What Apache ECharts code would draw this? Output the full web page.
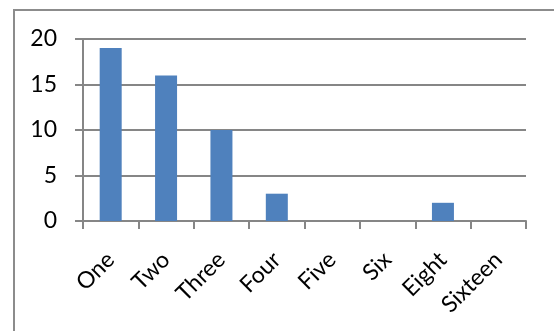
<!DOCTYPE html>
<html>
<head>
<meta charset="utf-8">
<script src="https://cdn.jsdelivr.net/npm/echarts@6/dist/echarts.min.js"></script>
<style>
  html, body { margin: 0; padding: 0; background: #fff; }
  #chart { width: 554px; height: 331px; }
</style>
</head>
<body>
<div id="chart"></div>
<script>
const categories = ['One', 'Two', 'Three', 'Four', 'Five', 'Six', 'Eight', 'Sixteen'];
const values = [19, 16, 10, 3, 0, 0, 2, 0];
const yTicks = [0, 5, 10, 15, 20];

const chart = echarts.init(document.getElementById('chart'), null, { renderer: 'canvas' });
const axisColor = '#868686';
const font = 'Lato, "Open Sans", sans-serif';

chart.setOption({
  animation: false,
  backgroundColor: '#ffffff',
  graphic: [{
    type: 'rect',
    shape: { x: 14, y: 10, width: 800, height: 600 },
    style: { fill: 'none', stroke: '#8c8c8c', lineWidth: 2 },
    silent: true
  }],
  grid: { left: 83, top: 39, right: 28, bottom: 110, containLabel: false },
  xAxis: {
    type: 'category',
    data: categories,
    boundaryGap: true,
    axisLine: { lineStyle: { color: axisColor, width: 2 } },
    axisTick: { show: true, length: 8, alignWithLabel: false, lineStyle: { color: axisColor, width: 2 } },
    axisLabel: { rotate: 45, interval: 0, margin: 35, color: '#000', fontFamily: font, fontSize: 23 }
  },
  yAxis: {
    type: 'value',
    min: yTicks[0],
    max: yTicks[yTicks.length - 1],
    interval: yTicks[1] - yTicks[0],
    axisLine: { show: true, lineStyle: { color: axisColor, width: 2 } },
    axisTick: { show: true, length: 8, lineStyle: { color: axisColor, width: 2 } },
    axisLabel: { margin: 26, color: '#000', fontFamily: font, fontSize: 23 },
    splitLine: { show: true, lineStyle: { color: axisColor, width: 2 } }
  },
  series: [{
    type: 'bar',
    data: values,
    barWidth: 22,
    itemStyle: { color: '#4F81BD' }
  }]
});
</script>
</body>
</html>
